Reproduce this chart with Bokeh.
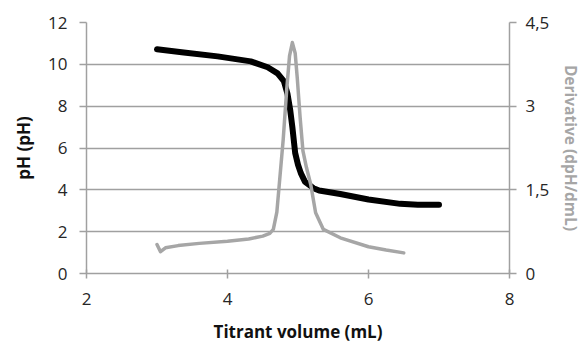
from bokeh.plotting import figure
from bokeh.models import Range1d, LinearAxis, FixedTicker, CustomJSTickFormatter
from bokeh.embed import file_html
from bokeh.resources import INLINE

# pH titration curve
vol_ph = [3.0, 3.38, 3.86, 4.33, 4.57, 4.71, 4.8, 4.85, 4.89, 4.92, 4.96, 5.0, 5.04,
          5.1, 5.22, 5.3, 5.6, 6.0, 6.45, 6.7, 7.0]
ph = [10.72, 10.57, 10.38, 10.14, 9.86, 9.57, 9.2, 8.6, 7.8, 7.0, 5.76, 5.2, 4.8,
      4.38, 4.08, 3.97, 3.8, 3.54, 3.33, 3.29, 3.29]

# derivative curve
vol_d = [3.0, 3.05, 3.12, 3.3, 3.6, 4.0, 4.3, 4.5, 4.6, 4.65, 4.7, 4.74, 4.79, 4.84,
         4.88, 4.92, 4.96, 4.99, 5.03, 5.07, 5.12, 5.18, 5.25, 5.36, 5.6, 6.0, 6.25, 6.5]
deriv = [0.52, 0.39, 0.46, 0.5, 0.54, 0.58, 0.62, 0.67, 0.72, 0.79, 1.1, 1.68, 2.4, 3.3,
         3.9, 4.14, 3.95, 3.5, 2.8, 2.2, 1.9, 1.6, 1.09, 0.79, 0.64, 0.48, 0.42, 0.37]

x_ticks = [2, 4, 6, 8]
ph_ticks = [0, 2, 4, 6, 8, 10, 12]
d_ticks = [0, 1.5, 3, 4.5]

FONT = "Open Sans"
GRID = "#a0a0a0"
TXT = "#262626"

p = figure(width=586, height=345, output_backend="svg", toolbar_location=None,
           x_range=Range1d(2, 8), y_range=Range1d(0, 12),
           min_border_left=86, min_border_right=77, min_border_top=22, min_border_bottom=71)
p.outline_line_color = None
p.xgrid.grid_line_color = None
p.ygrid.grid_line_color = GRID
p.ygrid.grid_line_width = 1.5

p.extra_y_ranges = {"d": Range1d(0, 4.5)}

p.line(vol_ph, ph, line_color="black", line_width=6, line_cap="round", line_join="round")
p.line(vol_d, deriv, y_range_name="d", line_color="#a6a6a6", line_width=3.5,
       line_cap="round", line_join="round")

for ax in [p.xaxis[0], p.yaxis[0]]:
    ax.axis_line_color = GRID
    ax.axis_line_width = 1.5
    ax.major_tick_line_color = GRID
    ax.major_tick_line_width = 1.5
    ax.minor_tick_line_color = None
    ax.major_label_text_font = FONT
    ax.major_label_text_font_size = "17px"
    ax.major_label_text_color = TXT
    ax.axis_label_text_font = FONT
    ax.axis_label_text_font_size = "17px"
    ax.axis_label_text_font_style = "bold"
    ax.axis_label_text_color = "#111111"

p.xaxis.ticker = FixedTicker(ticks=x_ticks)
p.xaxis.major_tick_in = 4
p.xaxis.major_tick_out = 5
p.xaxis.major_label_standoff = 14
p.xaxis.axis_label = "Titrant volume (mL)"
p.xaxis.axis_label_standoff = 12

p.yaxis.ticker = FixedTicker(ticks=ph_ticks)
p.yaxis.major_tick_in = 0
p.yaxis.major_tick_out = 7
p.yaxis.major_label_standoff = 12
p.yaxis.axis_label = "pH (pH)"
p.yaxis.axis_label_standoff = 10

rax = LinearAxis(y_range_name="d", ticker=FixedTicker(ticks=d_ticks),
                 axis_label="Derivative (dpH/dmL)")
rax.formatter = CustomJSTickFormatter(code="return String(tick).replace('.', ',');")
rax.axis_line_color = GRID
rax.axis_line_width = 1.5
rax.major_tick_line_color = GRID
rax.major_tick_line_width = 1.5
rax.major_tick_in = 0
rax.major_tick_out = 7
rax.minor_tick_line_color = None
rax.major_label_text_font = FONT
rax.major_label_text_font_size = "17px"
rax.major_label_text_color = TXT
rax.major_label_standoff = 9
rax.axis_label_text_font = FONT
rax.axis_label_text_font_size = "15.5px"
rax.axis_label_text_font_style = "bold"
rax.axis_label_text_color = "#a6a6a6"
rax.axis_label_standoff = 8
p.add_layout(rax, "right")

open("out.html", "w").write(file_html(p, INLINE))
